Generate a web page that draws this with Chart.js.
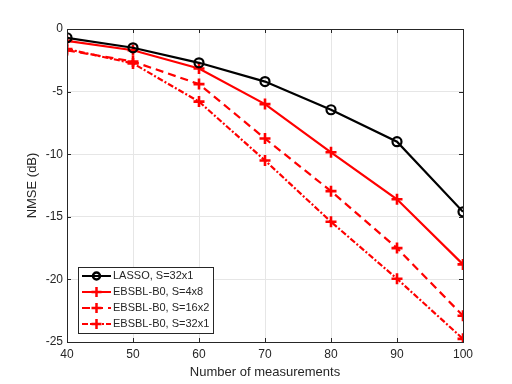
<!DOCTYPE html>
<html>
<head>
<meta charset="utf-8">
<script src="https://cdn.jsdelivr.net/npm/chart.js@4/dist/chart.umd.min.js"></script>
<style>
  html, body { margin: 0; padding: 0; background: #fff; }
  #wrap { width: 512px; height: 384px; }
</style>
</head>
<body>
<div id="wrap"><canvas id="c" width="512" height="384"></canvas></div>
<script>
const measurements = [40, 50, 60, 70, 80, 90, 100];
const lasso32x1 = [-0.7, -1.5, -2.7, -4.2, -6.45, -9.0, -14.6];
const ebsbl4x8 = [-0.95, -1.7, -3.15, -6.0, -9.85, -13.6, -18.8];
const ebsbl16x2 = [-1.7, -2.6, -4.4, -8.75, -12.95, -17.5, -22.9];
const ebsbl32x1 = [-1.6, -2.75, -5.8, -10.5, -15.4, -19.95, -24.75];
const seriesNames = ['LASSO, S=32x1', 'EBSBL-B0, S=4x8', 'EBSBL-B0, S=16x2', 'EBSBL-B0, S=32x1'];
const yTicks = [0, -5, -10, -15, -20, -25];

const FONT = '"Liberation Sans", Arial, sans-serif';
const toXY = arr => arr.map((v, i) => ({x: measurements[i], y: v}));

// MATLAB style inward ticks + legend box inside the axes
const matlabBits = {
  id: 'matlabBits',
  afterDatasetsDraw(chart) {
    const {ctx, chartArea: a, scales} = chart;
    ctx.save();
    ctx.strokeStyle = '#262626';
    ctx.lineWidth = 1;
    ctx.beginPath();
    measurements.forEach(v => {
      const px = Math.round(scales.x.getPixelForValue(v)) + 0.5;
      ctx.moveTo(px, a.bottom); ctx.lineTo(px, a.bottom - 4);
      ctx.moveTo(px, a.top); ctx.lineTo(px, a.top + 4);
    });
    yTicks.forEach(v => {
      const py = Math.round(scales.y.getPixelForValue(v)) + 0.5;
      ctx.moveTo(a.left, py); ctx.lineTo(a.left + 4, py);
      ctx.moveTo(a.right, py); ctx.lineTo(a.right - 4, py);
    });
    ctx.stroke();
    ctx.strokeRect(Math.round(a.left) + 0.5, Math.round(a.top) + 0.5,
      Math.round(a.right - a.left), Math.round(a.bottom - a.top));

    // legend
    const bx = a.left + 11, by = a.bottom - 75, bw = 135, bh = 66;
    ctx.fillStyle = '#fff';
    ctx.fillRect(bx, by, bw, bh);
    ctx.strokeStyle = '#262626';
    ctx.strokeRect(bx + 0.5, by + 0.5, bw, bh);
    ctx.font = '11px ' + FONT;
    ctx.textBaseline = 'middle';
    chart.data.datasets.forEach((ds, i) => {
      const y = by + 9 + i * 16;
      const x0 = bx + 4, x1 = bx + 33, xm = (x0 + x1) / 2;
      ctx.strokeStyle = ds.borderColor;
      ctx.lineWidth = 2;
      ctx.setLineDash(ds.borderDash || []);
      ctx.beginPath(); ctx.moveTo(x0, y); ctx.lineTo(x1, y); ctx.stroke();
      ctx.setLineDash([]);
      ctx.beginPath();
      if (ds.pointStyle === 'circle') {
        ctx.arc(xm, y, 3.5, 0, Math.PI * 2);
      } else {
        ctx.moveTo(xm - 5, y); ctx.lineTo(xm + 5, y);
        ctx.moveTo(xm, y - 5); ctx.lineTo(xm, y + 5);
      }
      ctx.lineWidth = 2.5;
      ctx.stroke();
      ctx.fillStyle = '#262626';
      ctx.fillText(seriesNames[i], bx + 35, y);
    });
    ctx.restore();
  }
};

const red = '#ff0000';
new Chart(document.getElementById('c'), {
  type: 'line',
  data: {
    datasets: [
      {
        label: seriesNames[0], data: toXY(lasso32x1),
        borderColor: '#000', backgroundColor: 'rgba(0,0,0,0)',
        pointStyle: 'circle', pointRadius: 4.5, pointBorderWidth: 2.2,
        pointBorderColor: '#000', pointBackgroundColor: 'rgba(0,0,0,0)'
      },
      {
        label: seriesNames[1], data: toXY(ebsbl4x8),
        borderColor: red, pointStyle: 'cross', pointRadius: 5.5,
        pointBorderWidth: 2.6, pointBorderColor: red
      },
      {
        label: seriesNames[2], data: toXY(ebsbl16x2),
        borderColor: red, borderDash: [8, 5], pointStyle: 'cross', pointRadius: 5.5,
        pointBorderWidth: 2.6, pointBorderColor: red
      },
      {
        label: seriesNames[3], data: toXY(ebsbl32x1),
        borderColor: red, borderDash: [6, 2, 2, 2], pointStyle: 'cross', pointRadius: 5.5,
        pointBorderWidth: 2.6, pointBorderColor: red
      }
    ]
  },
  options: {
    responsive: false,
    animation: false,
    layout: { padding: { left: 25, top: 29, right: 49, bottom: 0 } },
    elements: { line: { borderWidth: 2.2, tension: 0 } },
    plugins: { legend: { display: false }, tooltip: { enabled: false } },
    scales: {
      x: {
        type: 'linear', min: 40, max: 100,
        afterBuildTicks: s => { s.ticks = measurements.map(v => ({value: v})); },
        afterFit: s => { s.height = 42; },
        grid: { color: '#e6e6e6', drawTicks: false },
        border: { display: false },
        ticks: { color: '#262626', font: { family: FONT, size: 12 }, padding: 5, maxRotation: 0 },
        title: { display: true, text: 'Number of measurements', color: '#262626',
                 font: { family: FONT, size: 13 }, padding: { top: 2 } }
      },
      y: {
        type: 'linear', min: -25, max: 0,
        afterBuildTicks: s => { s.ticks = yTicks.map(v => ({value: v})); },
        afterFit: s => { s.width = 42; },
        grid: { color: '#e6e6e6', drawTicks: false },
        border: { display: false },
        ticks: { color: '#262626', font: { family: FONT, size: 12 }, padding: 4 },
        title: { display: true, text: 'NMSE (dB)', color: '#262626',
                 font: { family: FONT, size: 13 }, padding: 0 }
      }
    }
  },
  plugins: [matlabBits]
});
</script>
</body>
</html>
